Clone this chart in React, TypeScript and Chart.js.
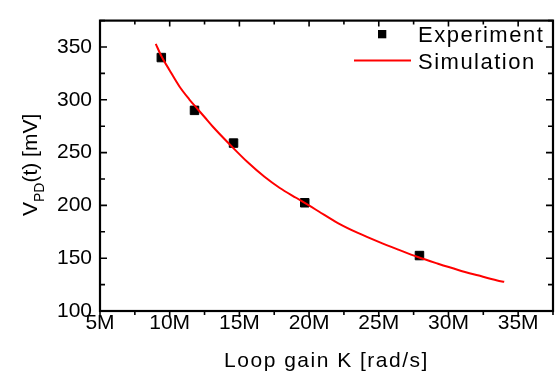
import React, { useEffect, useRef } from 'react';
import { Chart, registerables } from 'chart.js';

Chart.register(...registerables);

// Loop gain K in M rad/s, V_PD in mV
const expK = [9.4, 11.78, 14.58, 19.69, 27.92];
const expV = [340, 290, 259, 202.5, 152.5];
const simK = [9.0, 9.4, 10.0, 10.7, 11.4, 11.9, 12.5, 13.1, 14.4, 15.6, 16.8, 17.9, 19.1, 20.2, 20.7, 22.1, 23.5, 25.0, 26.4, 27.8, 29.2, 30.7, 32.1, 33.5, 34.0];
const simV = [353, 341.5, 327.8, 312.6, 300.5, 292.8, 283.7, 274.5, 256.5, 240.8, 227.1, 216.5, 207, 198.3, 194.2, 183, 173.9, 165.4, 158.1, 151.1, 145, 138.9, 133.8, 128.9, 127.6];
const seriesLabels = ['Experiment', 'Simulation'];
const xTitle = 'Loop gain K [rad/s]';
const yTitleParts = ['V', 'PD', '(t) [mV]'];

const FONT = '"Liberation Sans", Arial, sans-serif';

const framePlugin = {
  id: 'framePlugin',
  beforeInit(chart: any) {
    chart.ctx.letterSpacing = '1.5px';
  },
  afterDraw(chart: any) {
    const ctx = chart.ctx as CanvasRenderingContext2D;
    const { left, right, top, bottom } = chart.chartArea;
    const xs = chart.scales.x;
    const ys = chart.scales.y;
    ctx.save();
    ctx.strokeStyle = '#000';
    ctx.lineWidth = 2.2;
    ctx.strokeRect(left, top, right - left, bottom - top);
    ctx.lineWidth = 1.6;
    ctx.beginPath();
    const xt = xs.ticks.map((t: any) => t.value);
    const xMinor: number[] = [];
    for (let v = xs.min + 2.5; v <= xs.max + 1e-9; v += 5) xMinor.push(v);
    xt.forEach((v: number) => {
      const p = xs.getPixelForValue(v);
      ctx.moveTo(p, bottom); ctx.lineTo(p, bottom + 6);
      ctx.moveTo(p, top); ctx.lineTo(p, top + 6);
    });
    xMinor.forEach((v) => {
      const p = xs.getPixelForValue(v);
      ctx.moveTo(p, bottom); ctx.lineTo(p, bottom + 4);
      ctx.moveTo(p, top); ctx.lineTo(p, top + 4);
    });
    const yt = ys.ticks.map((t: any) => t.value);
    const yMinor: number[] = [];
    for (let v = ys.min + 25; v <= ys.max + 1e-9; v += 50) yMinor.push(v);
    yt.forEach((v: number) => {
      const p = ys.getPixelForValue(v);
      ctx.moveTo(left, p); ctx.lineTo(left + 7, p);
      ctx.moveTo(right, p); ctx.lineTo(right - 7, p);
    });
    yMinor.forEach((v) => {
      const p = ys.getPixelForValue(v);
      ctx.moveTo(left, p); ctx.lineTo(left + 5, p);
      ctx.moveTo(right, p); ctx.lineTo(right - 5, p);
    });
    ctx.stroke();

    // x title
    ctx.fillStyle = '#000';
    ctx.font = `21px ${FONT}`;
    ctx.textAlign = 'center';
    ctx.textBaseline = 'alphabetic';
    (ctx as any).letterSpacing = '1.5px';
    ctx.fillText(xTitle, (left + right) / 2, 367);

    // legend
    const ds = chart.data.datasets;
    ctx.font = `22px ${FONT}`;
    ctx.textAlign = 'left';
    ctx.fillStyle = ds[0].backgroundColor;
    ctx.fillRect(378, 30, 8.3, 8.3);
    ctx.fillStyle = '#000';
    ctx.fillText(ds[0].label, 418, 41.5);
    ctx.strokeStyle = ds[1].borderColor;
    ctx.lineWidth = 2;
    ctx.beginPath();
    ctx.moveTo(354, 60.5); ctx.lineTo(411, 60.5);
    ctx.stroke();
    ctx.fillText(ds[1].label, 418, 68.5);

    // y title (rotated, with subscript)
    (ctx as any).letterSpacing = '0px';
    ctx.translate(37, 216);
    ctx.rotate(-Math.PI / 2);
    ctx.font = `21px ${FONT}`;
    ctx.fillText(yTitleParts[0], 0, 0);
    let x = ctx.measureText(yTitleParts[0]).width;
    ctx.font = `14px ${FONT}`;
    ctx.fillText(yTitleParts[1], x, 7);
    x += ctx.measureText(yTitleParts[1]).width;
    ctx.font = `21px ${FONT}`;
    ctx.fillText(yTitleParts[2], x, 0);
    ctx.restore();
  },
};

export default function App() {
  const ref = useRef<HTMLCanvasElement | null>(null);
  useEffect(() => {
    document.body.style.margin = '0';
    const canvas = ref.current!;
    const chart = new Chart(canvas, {
      type: 'scatter',
      data: {
        datasets: [
          {
            label: seriesLabels[0],
            data: expK.map((k, i) => ({ x: k, y: expV[i] })),
            pointStyle: 'rect',
            pointRadius: 6,
            pointBorderWidth: 1,
            backgroundColor: '#000000',
            borderColor: '#000000',
            order: 2,
          },
          {
            label: seriesLabels[1],
            data: simK.map((k, i) => ({ x: k, y: simV[i] })),
            showLine: true,
            pointRadius: 0,
            borderColor: '#ff0000',
            backgroundColor: '#ff0000',
            borderWidth: 2,
            cubicInterpolationMode: 'monotone',
            order: 1,
          } as any,
        ],
      },
      options: {
        animation: false,
        responsive: false,
        maintainAspectRatio: false,
        events: [],
        layout: { padding: { left: 0, top: 9, right: 2, bottom: 0 } },
        plugins: { legend: { display: false }, tooltip: { enabled: false } },
        scales: {
          x: {
            type: 'linear',
            min: 5,
            max: 37.5,
            grid: { display: false, drawTicks: false },
            border: { display: false },
            ticks: {
              stepSize: 5,
              includeBounds: false,
              padding: 0,
              maxRotation: 0,
              color: '#000',
              font: { size: 21, family: FONT },
              callback: (v: any) => `${v}M`,
            },
            afterFit: (s: any) => { s.height = 65; },
          },
          y: {
            type: 'linear',
            min: 100,
            max: 375,
            grid: { display: false, drawTicks: false },
            border: { display: false },
            ticks: {
              stepSize: 50,
              includeBounds: false,
              padding: 8,
              color: '#000',
              font: { size: 21, family: FONT },
            },
            afterFit: (s: any) => { s.width = 100; },
          },
        },
      },
      plugins: [framePlugin],
    });
    return () => chart.destroy();
  }, []);
  return <canvas ref={ref} width={560} height={376} style={{ display: 'block' }} />;
}
